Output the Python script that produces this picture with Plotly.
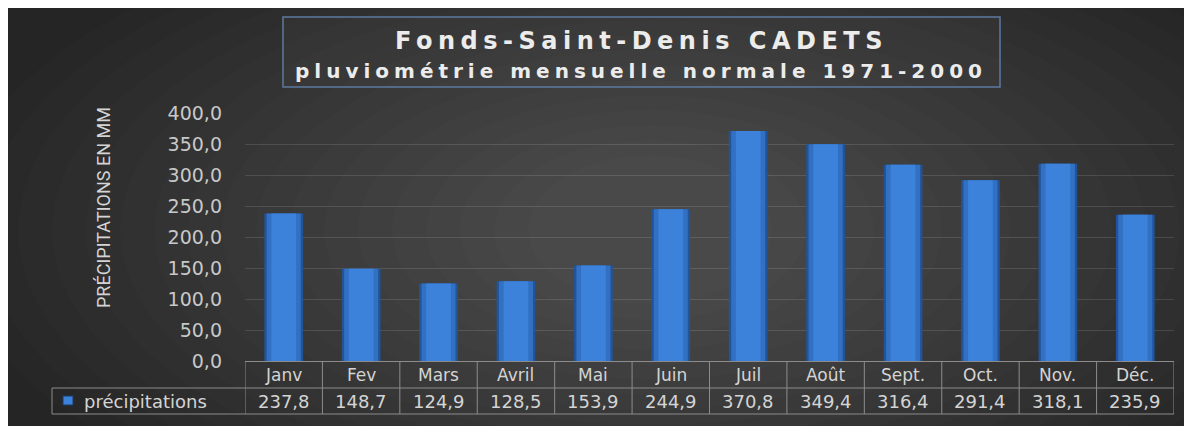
import plotly.graph_objects as go

months = ["Janv", "Fev", "Mars", "Avril", "Mai", "Juin", "Juil", "Août", "Sept.", "Oct.", "Nov.", "Déc."]
precip = [237.8, 148.7, 124.9, 128.5, 153.9, 244.9, 370.8, 349.4, 316.4, 291.4, 318.1, 235.9]
series_name = "précipitations"
y_ticks = [0, 50, 100, 150, 200, 250, 300, 350, 400]

# page body adds an 8px offset, so the figure is a bit smaller than the window
W, H = 1184, 418
L, R, T, B = 237, 18, 105, 65
pw, ph = W - L - R, H - T - B


# helpers take screen pixels (window coords) and return paper coords
def px(x):
    return (x - 245) / pw


def py(y):
    return (361 - y) / ph


FONT = "DejaVu Sans"
TXT = "#d4d4d4"
GRID = "#8c8c8c"

fig = go.Figure()
for w, col in [(0.5, "#22549a"), (0.44, "#3170c2"), (0.32, "#3d82da")]:
    fig.add_trace(go.Bar(
        x=months, y=precip, width=w,
        marker=dict(color=col, line=dict(width=0)),
        showlegend=False, name=series_name, hoverinfo="skip"
    ))

shapes = []
# radial-ish gradient on the dark background
cx, cy = 650, 230
for i in range(18):
    rx = 700 - i * 34
    ry = 330 - i * 15
    shapes.append(dict(type="circle", xref="paper", yref="paper", layer="below",
                       x0=px(cx - rx), x1=px(cx + rx), y0=py(cy - ry), y1=py(cy + ry),
                       fillcolor="rgba(255,255,255,0.011)", line=dict(width=0)))

# title box
shapes.append(dict(type="rect", xref="paper", yref="paper",
                   x0=px(283), x1=px(1000), y0=py(17), y1=py(87),
                   fillcolor="rgba(255,255,255,0.02)", line=dict(color="#5d7a9e", width=1.5)))

# data table grid
n = len(months)
row_top, row_mid, row_bot = py(361), py(388), py(414)
for i in range(n + 1):
    shapes.append(dict(type="line", xref="x", yref="paper",
                       x0=i - 0.5, x1=i - 0.5, y0=row_top, y1=row_bot,
                       line=dict(color=GRID, width=1)))
for yy in (row_mid, row_bot):
    shapes.append(dict(type="line", xref="paper", yref="paper", x0=px(52), x1=1,
                       y0=yy, y1=yy, line=dict(color=GRID, width=1)))
shapes.append(dict(type="line", xref="paper", yref="paper", x0=px(52), x1=px(52),
                   y0=row_mid, y1=row_bot, line=dict(color=GRID, width=1)))
# legend key
shapes.append(dict(type="rect", xref="paper", yref="paper",
                   x0=px(63), x1=px(73), y0=py(405), y1=py(396),
                   fillcolor="#3d82da", line=dict(color="#1a3a66", width=1)))

annotations = []
for m, v in zip(months, precip):
    annotations.append(dict(x=m, y=(row_top + row_mid) / 2, xref="x", yref="paper",
                            xanchor="center", yanchor="middle",
                            text=m, showarrow=False, font=dict(family=FONT, size=17, color=TXT)))
    annotations.append(dict(x=m, y=(row_mid + row_bot) / 2, xref="x", yref="paper",
                            xanchor="center", yanchor="middle",
                            text=f"{v:.1f}".replace(".", ","), showarrow=False,
                            font=dict(family=FONT, size=18, color=TXT)))
annotations.append(dict(x=px(82), y=(row_mid + row_bot) / 2, xref="paper", yref="paper",
                        xanchor="left", yanchor="middle", text=series_name, showarrow=False,
                        font=dict(family=FONT, size=18, color=TXT)))
annotations.append(dict(x=px(103), y=py(208), xref="paper", yref="paper", textangle=-90,
                        xanchor="center", yanchor="middle",
                        text="PRÉCIPITATIONS EN MM", showarrow=False,
                        font=dict(family="Roboto", size=18, color=TXT)))
annotations.append(dict(x=px(641), y=py(41), xref="paper", yref="paper",
                        xanchor="center", yanchor="middle",
                        text="<span style='letter-spacing:5.5px'><b>Fonds-Saint-Denis CADETS</b></span>",
                        showarrow=False, font=dict(family="DejaVu Sans", size=24, color="#ececec")))
annotations.append(dict(x=px(641), y=py(71), xref="paper", yref="paper",
                        xanchor="center", yanchor="middle",
                        text="<span style='letter-spacing:5px'><b>pluviométrie mensuelle normale 1971-2000</b></span>",
                        showarrow=False, font=dict(family="DejaVu Sans", size=20, color="#ececec")))

fig.update_layout(
    width=W, height=H,
    margin=dict(l=L, r=R, t=T, b=B),
    paper_bgcolor="#252525",
    plot_bgcolor="rgba(0,0,0,0)",
    barmode="overlay",
    separators=", ",
    shapes=shapes,
    annotations=annotations,
    showlegend=False,
)
fig.update_xaxes(showticklabels=False, showgrid=False, showline=True,
                 linecolor=GRID, linewidth=1, ticks="", range=[-0.5, n - 0.5])
fig.update_yaxes(range=[0, 400], tickvals=y_ticks, tickformat=".1f",
                 gridcolor="rgba(255,255,255,0.12)", zeroline=False,
                 tickfont=dict(family=FONT, size=19, color="#c8c8c8"), ticklabelstandoff=22)

fig.write_html("out.html")
